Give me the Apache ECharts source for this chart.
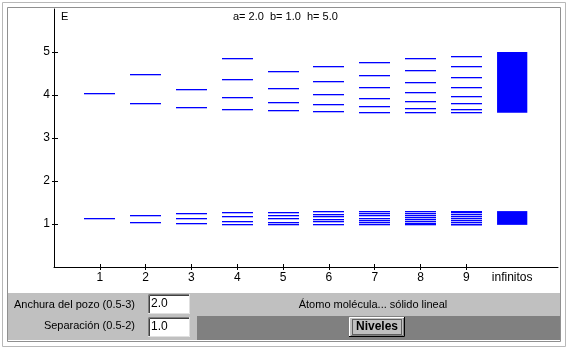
<!DOCTYPE html>
<html>
<head>
<meta charset="utf-8">
<script src="https://cdn.jsdelivr.net/npm/echarts@6/dist/echarts.min.js"></script>
<style>
  html, body { margin: 0; padding: 0; background: #fff; }
  #chart { width: 569px; height: 351px; }
</style>
</head>
<body>
<div id="chart"></div>
<script>
// etiquetas del eje x (columna 10 = infinitos)
const columnLabels = ['1', '2', '3', '4', '5', '6', '7', '8', '9', 'infinitos']
const yTickValues = [1, 2, 3, 4, 5]

// niveles de energía de la banda superior, por número de pozos
const upperLevels = [
  [4.05],
  [4.49, 3.81],
  [4.13, 3.71],
  [4.85, 4.37, 3.95, 3.67],
  [4.55, 4.16, 3.83, 3.64],
  [4.67, 4.32, 4.02, 3.78, 3.62],
  [4.76, 4.46, 4.18, 3.92, 3.74, 3.60],
  [4.85, 4.57, 4.30, 4.07, 3.86, 3.69, 3.60],
  [4.91, 4.67, 4.42, 4.18, 3.97, 3.81, 3.67, 3.60]
]

// niveles de la banda inferior
const lowerLevels = [
  [1.13],
  [1.20, 1.04],
  [1.25, 1.13, 1.02],
  [1.28, 1.18, 1.07, 0.99],
  [1.29, 1.21, 1.13, 1.05, 0.99],
  [1.30, 1.24, 1.18, 1.12, 1.06, 1.00],
  [1.30, 1.26, 1.21, 1.15, 1.10, 1.04, 1.00],
  [1.30, 1.26, 1.22, 1.17, 1.12, 1.07, 1.02, 0.99],
  [1.30, 1.27, 1.23, 1.19, 1.15, 1.10, 1.05, 1.01, 0.99]
]

// bandas continuas (infinitos pozos): [min, max]
const bandUpper = [3.59, 5.0]
const bandLower = [0.98, 1.30]

const BLUE = '#0000ff'
const FONT = "'Liberation Sans', Arial, sans-serif"
const FS = 11

// lista plana [x, E] para las líneas
const levelData = []
upperLevels.concat(lowerLevels).forEach((col, i) => {
  const x = (i % 9) + 1
  col.forEach(e => levelData.push([x, e]))
})
const bandData = [
  [10, bandUpper[0], bandUpper[1]],
  [10, bandLower[0], bandLower[1]]
]

const chart = echarts.init(document.getElementById('chart'), null, { renderer: 'canvas' })

function sunkenBox(x, y, w, h, text) {
  return [
    { type: 'rect', shape: { x, y, width: w, height: h }, style: { fill: '#fff' } },
    { type: 'polyline', shape: { points: [[x + 0.5, y + h], [x + 0.5, y + 0.5], [x + w, y + 0.5]] }, style: { stroke: '#808080', lineWidth: 1 } },
    { type: 'polyline', shape: { points: [[x + 1.5, y + h - 1], [x + 1.5, y + 1.5], [x + w - 1, y + 1.5]] }, style: { stroke: '#404040', lineWidth: 1 } },
    { type: 'polyline', shape: { points: [[x, y + h - 0.5], [x + w - 0.5, y + h - 0.5], [x + w - 0.5, y]] }, style: { stroke: '#e0e0e0', lineWidth: 1 } },
    { type: 'text', x: x + 3, y: y + h / 2, style: { text, font: '12px ' + FONT, fill: '#000', verticalAlign: 'middle' } }
  ]
}

const option = {
  backgroundColor: '#fff',
  animation: false,
  grid: { left: 54, right: 11, top: 9, bottom: 84, containLabel: false },
  xAxis: [
    {
      type: 'value', min: 0, max: 11, interval: 1,
      axisLine: { lineStyle: { color: '#000', width: 1 } },
      axisTick: { show: true, length: 3, lineStyle: { color: '#000' }, customValues: [1, 2, 3, 4, 5, 6, 7, 8, 9] },
      axisLabel: {
        color: '#000', fontFamily: FONT, fontSize: 12, margin: 5,
        customValues: [1, 2, 3, 4, 5, 6, 7, 8, 9, 10],
        formatter: v => columnLabels[v - 1] || ''
      },
      splitLine: { show: false }
    },
    {
      type: 'value', min: 0, max: 11, interval: 1, position: 'bottom', offset: 0,
      axisLine: { show: false },
      axisTick: { show: true, inside: true, length: 3, lineStyle: { color: '#000' }, customValues: [1, 2, 3, 4, 5, 6, 7, 8, 9] },
      axisLabel: { show: false },
      splitLine: { show: false }
    }
  ],
  yAxis: [
    {
      type: 'value', min: 0, max: 6, interval: 1,
      axisLine: { show: true, lineStyle: { color: '#000', width: 1 } },
      axisTick: { show: true, length: 2, lineStyle: { color: '#000' }, customValues: yTickValues },
      axisLabel: { color: '#000', fontFamily: FONT, fontSize: 12, margin: 4, customValues: yTickValues },
      splitLine: { show: false }
    },
    {
      type: 'value', min: 0, max: 6, interval: 1, position: 'left', offset: 0,
      axisLine: { show: false },
      axisTick: { show: true, inside: true, length: 4, lineStyle: { color: '#000' }, customValues: yTickValues },
      axisLabel: { show: false },
      splitLine: { show: false }
    }
  ],
  series: [
    {
      type: 'custom',
      data: levelData,
      renderItem: (params, api) => {
        const x = api.value(0)
        const e = api.value(1)
        const p0 = api.coord([x - 0.34, e])
        const p1 = api.coord([x + 0.34, e])
        return {
          type: 'rect',
          shape: { x: Math.round(p0[0]), y: Math.round(p0[1]), width: Math.round(p1[0] - p0[0]), height: 1.3 },
          style: { fill: BLUE }
        }
      }
    },
    {
      type: 'custom',
      data: bandData,
      renderItem: (params, api) => {
        const x = api.value(0)
        const top = api.coord([x - 0.33, api.value(2)])
        const bot = api.coord([x + 0.33, api.value(1)])
        return {
          type: 'rect',
          shape: { x: top[0], y: top[1], width: bot[0] - top[0], height: bot[1] - top[1] },
          style: { fill: BLUE }
        }
      }
    }
  ],
  graphic: [
    // marcos
    { type: 'rect', shape: { x: 2.5, y: 2.5, width: 563, height: 344 }, style: { fill: null, stroke: '#b8b8b8', lineWidth: 1 } },
    { type: 'rect', shape: { x: 7.5, y: 7.5, width: 553, height: 334 }, style: { fill: null, stroke: '#909090', lineWidth: 1 } },
    // textos del gráfico
    { type: 'text', x: 61, y: 17, style: { text: 'E', font: FS + 'px ' + FONT, fill: '#000', verticalAlign: 'middle' } },
    { type: 'text', x: 233, y: 17, style: { text: 'a= 2.0  b= 1.0  h= 5.0', font: FS + 'px ' + FONT, fill: '#000', verticalAlign: 'middle' } },
    // panel de controles
    { type: 'rect', shape: { x: 8, y: 293, width: 552, height: 23 }, style: { fill: '#c0c0c0' } },
    { type: 'rect', shape: { x: 8, y: 316, width: 189, height: 24 }, style: { fill: '#c0c0c0' } },
    { type: 'rect', shape: { x: 197, y: 316, width: 363, height: 24 }, style: { fill: '#808080' } },
    { type: 'text', x: 135, y: 305, style: { text: 'Anchura del pozo (0.5-3)', font: FS + 'px ' + FONT, fill: '#000', align: 'right', verticalAlign: 'middle' } },
    { type: 'text', x: 135, y: 326, style: { text: 'Separación (0.5-2)', font: FS + 'px ' + FONT, fill: '#000', align: 'right', verticalAlign: 'middle' } },
    ...sunkenBox(148, 294, 42, 20, '2.0'),
    ...sunkenBox(148, 317, 42, 20, '1.0'),
    { type: 'text', x: 373, y: 305, style: { text: 'Átomo molécula... sólido lineal', font: FS + 'px ' + FONT, fill: '#000', align: 'center', verticalAlign: 'middle' } },
    // botón Niveles
    { type: 'rect', shape: { x: 349, y: 317, width: 56, height: 20 }, style: { fill: '#c0c0c0' } },
    { type: 'polyline', shape: { points: [[349.5, 337], [349.5, 317.5], [405, 317.5]] }, style: { stroke: '#ffffff', lineWidth: 1 } },
    { type: 'polyline', shape: { points: [[349, 336.5], [404.5, 336.5], [404.5, 317]] }, style: { stroke: '#000', lineWidth: 1 } },
    { type: 'polyline', shape: { points: [[351, 335.5], [403.5, 335.5], [403.5, 318]] }, style: { stroke: '#808080', lineWidth: 1 } },
    { type: 'rect', shape: { x: 352.5, y: 319.5, width: 49, height: 15 }, style: { fill: null, stroke: '#000', lineWidth: 1, lineDash: [1, 1] } },
    { type: 'text', x: 377, y: 327, style: { text: 'Niveles', font: 'bold 12px ' + FONT, fill: '#000', align: 'center', verticalAlign: 'middle' } }
  ]
}

chart.setOption(option)
</script>
</body>
</html>
